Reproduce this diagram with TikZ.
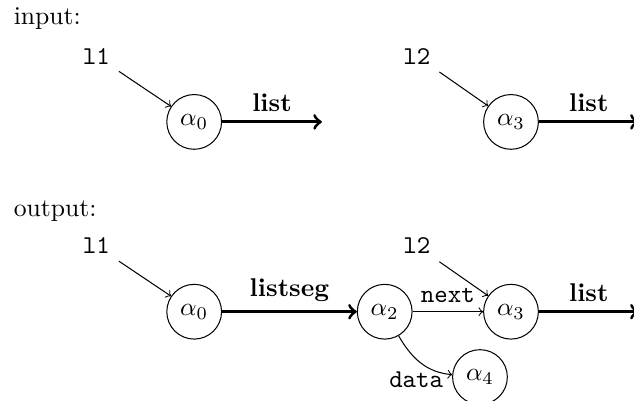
\documentclass[tikz,border=0pt]{standalone}

\begin{document}
\begin{tikzpicture}[
    var/.style={circle,draw,minimum size=0.75cm,inner sep=0pt},
    field/.style={->},
    pred/.style={->,very thick}
  ]
\useasboundingbox (0,0) rectangle (8.685,-5.493);
% input heap
\node[anchor=base west] (inlbl) at (0.065,-0.34) {input:};
\node (l1a) at (1.32,-0.77) {\texttt{l1}};
\node[var] (a0a) at (2.66,-1.67) {$\alpha_0$};
\coordinate (e0a) at (4.41,-1.67);
\node (l2a) at (5.71,-0.77) {\texttt{l2}};
\node[var] (a3a) at (7.0,-1.67) {$\alpha_3$};
\coordinate (e3a) at (8.75,-1.67);
\draw[field] (l1a) -- (a0a);
\draw[field] (l2a) -- (a3a);
\draw[pred] (a0a) -- node[above] {\textbf{list}} (e0a);
\draw[pred] (a3a) -- node[above] {\textbf{list}} (e3a);
% output heap
\node[anchor=base west] (outlbl) at (0.065,-2.97) {output:};
\node (l1b) at (1.32,-3.37) {\texttt{l1}};
\node[var] (a0b) at (2.66,-4.27) {$\alpha_0$};
\node[var] (a2b) at (5.27,-4.27) {$\alpha_2$};
\node (l2b) at (5.71,-3.37) {\texttt{l2}};
\node[var] (a3b) at (7.0,-4.27) {$\alpha_3$};
\node[var] (a4b) at (6.575,-5.165) {$\alpha_4$};
\coordinate (e3b) at (8.75,-4.27);
\draw[field] (l1b) -- (a0b);
\draw[field] (l2b) -- (a3b);
\draw[pred] (a0b) -- node[above] {\textbf{listseg}} (a2b);
\draw[field] (a2b) -- node[above] {\texttt{next}} (a3b);
\draw[field] (a2b) to[out=-60,in=175] node[pos=1,anchor=east,yshift=-2pt] {\texttt{data}} (a4b);
\draw[pred] (a3b) -- node[above] {\textbf{list}} (e3b);
\end{tikzpicture}
\end{document}
